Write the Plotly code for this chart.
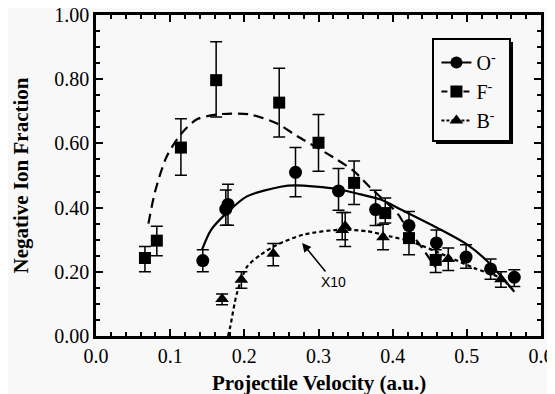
import plotly.graph_objects as go

# ---- data ----
o_x = [0.144, 0.175, 0.178, 0.269, 0.327, 0.377, 0.422, 0.459, 0.499, 0.532, 0.564]
o_y = [0.235, 0.395, 0.410, 0.510, 0.452, 0.394, 0.344, 0.290, 0.246, 0.209, 0.183]
o_ep = [0.034, 0.060, 0.063, 0.077, 0.070, 0.060, 0.044, 0.040, 0.038, 0.031, 0.023]
o_em = [0.035, 0.050, 0.065, 0.076, 0.060, 0.050, 0.040, 0.040, 0.035, 0.032, 0.029]

f_x = [0.066, 0.082, 0.1145, 0.162, 0.247, 0.300, 0.348, 0.390, 0.422, 0.458]
f_y = [0.243, 0.297, 0.587, 0.797, 0.727, 0.602, 0.477, 0.383, 0.305, 0.237]
f_ep = [0.036, 0.045, 0.090, 0.120, 0.107, 0.088, 0.068, 0.047, 0.040, 0.032]
f_em = [0.043, 0.047, 0.086, 0.115, 0.107, 0.089, 0.067, 0.031, 0.052, 0.039]

b_x = [0.170, 0.196, 0.239, 0.332, 0.336, 0.387, 0.475, 0.546]
b_y = [0.115, 0.175, 0.256, 0.330, 0.342, 0.308, 0.240, 0.177]
b_ep = [0.016, 0.025, 0.032, 0.055, 0.043, 0.040, 0.034, 0.023]
b_em = [0.018, 0.026, 0.037, 0.030, 0.063, 0.039, 0.036, 0.025]

# fitted curves
oc_x = [0.143, 0.155, 0.177, 0.2035, 0.249, 0.269, 0.325, 0.357, 0.384, 0.411, 0.465, 0.501, 0.528, 0.564]
oc_y = [0.269, 0.330, 0.385, 0.435, 0.465, 0.469, 0.458, 0.441, 0.425, 0.394, 0.331, 0.284, 0.232, 0.138]

fc_x = [0.0707, 0.0797, 0.0955, 0.116, 0.136, 0.163, 0.190, 0.208, 0.244, 0.271, 0.321, 0.348, 0.370, 0.406, 0.418, 0.440, 0.457]
fc_y = [0.350, 0.450, 0.560, 0.633, 0.675, 0.690, 0.693, 0.690, 0.662, 0.623, 0.555, 0.513, 0.462, 0.383, 0.341, 0.274, 0.215]

bc_x = [0.178, 0.181, 0.190, 0.2035, 0.222, 0.244, 0.280, 0.330, 0.366, 0.397, 0.424, 0.474, 0.510, 0.546, 0.562]
bc_y = [0.000, 0.029, 0.133, 0.215, 0.253, 0.284, 0.316, 0.331, 0.326, 0.310, 0.295, 0.248, 0.2115, 0.180, 0.144]

names = ["O<sup>-</sup>", "F<sup>-</sup>", "B<sup>-</sup>"]
x_ticks = [0.0, 0.1, 0.2, 0.3, 0.4, 0.5, 0.6]
y_ticks = [0.0, 0.2, 0.4, 0.6, 0.8, 1.0]

BG = "#f8f8f8"
FONT = "Liberation Serif"

fig = go.Figure()

curve_styles = [("solid", oc_x, oc_y), ("10px,6px", fc_x, fc_y), ("4px,3px", bc_x, bc_y)]
for dash, cx, cy in curve_styles:
    fig.add_trace(go.Scatter(x=cx, y=cy, mode="lines", line=dict(color="black", width=2.2, dash=dash, shape="spline", smoothing=0.8),
                             showlegend=False, hoverinfo="skip"))

sym = ["circle", "square", "triangle-up"]
sizes = [13, 12, 12]
data = [(o_x, o_y, o_ep, o_em), (f_x, f_y, f_ep, f_em), (b_x, b_y, b_ep, b_em)]
for i, (dx, dy, ep, em) in enumerate(data):
    fig.add_trace(go.Scatter(x=dx, y=dy, mode="markers",
                             marker=dict(symbol=sym[i], size=sizes[i], color="black"),
                             error_y=dict(type="data", array=ep, arrayminus=em, color="black", thickness=1.5, width=6),
                             showlegend=False))

dashes = ["solid", "6px,5px", "3px,2px"]
for i in range(3):
    fig.add_trace(go.Scatter(x=[None], y=[None], mode="lines+markers", name=names[i],
                             line=dict(color="black", width=2, dash=dashes[i]),
                             marker=dict(symbol=sym[i], size=12, color="black")))

fig.add_annotation(x=0.32, y=0.169, text="X10", showarrow=False,
                   font=dict(family="Liberation Sans", size=14, color="black"))
fig.add_annotation(x=0.278, y=0.29, ax=0.311, ay=0.196, axref="x", ayref="y", xref="x", yref="y",
                   text="", showarrow=True, arrowhead=2, arrowsize=1.2, arrowwidth=1.5, arrowcolor="black")

# legend frame with drop shadow (paper coords)
fig.add_shape(type="rect", xref="paper", yref="paper", x0=0.764, x1=0.9371, y0=0.5981, y1=0.9159,
              fillcolor="black", line=dict(width=0), layer="above")
fig.add_shape(type="rect", xref="paper", yref="paper", x0=0.7573, x1=0.9303, y0=0.6075, y1=0.9252,
              fillcolor=BG, line=dict(color="black", width=2), layer="above")

axis_common = dict(showline=True, linecolor="black", linewidth=2.5, mirror="allticks",
                   ticks="inside", ticklen=7, tickwidth=2, tickcolor="black",
                   showgrid=False, zeroline=False, automargin=False, ticklabeloverflow="allow",
                   tickfont=dict(family=FONT, size=20, color="black"))

fig.update_xaxes(range=[0, 0.6], tickvals=x_ticks, tickformat=".1f",
                 minor=dict(dtick=0.02, ticks="inside", ticklen=4, tickwidth=1.5, tickcolor="black"),
                 **axis_common)
fig.update_yaxes(range=[0, 1.0], tickvals=y_ticks, tickformat=".2f",
                 minor=dict(dtick=0.05, ticks="inside", ticklen=4, tickwidth=1.5, tickcolor="black"),
                 **axis_common)

fig.add_annotation(text="<b>Projectile Velocity (a.u.)</b>", xref="paper", yref="paper", x=0.5, y=0,
                   xanchor="center", yanchor="top", yshift=-33, showarrow=False,
                   font=dict(family=FONT, size=21, color="black"))
fig.add_annotation(text="<b>Negative Ion Fraction</b>", xref="paper", yref="paper", x=0, y=0.5,
                   xanchor="center", yanchor="middle", xshift=-76, textangle=-90, showarrow=False,
                   font=dict(family=FONT, size=21, color="black"))

fig.update_layout(
    width=547, height=386,
    margin=dict(l=88, r=14, t=7, b=58),
    paper_bgcolor=BG, plot_bgcolor=BG,
    legend=dict(x=0.765, y=0.7617, xanchor="left", yanchor="middle",
                bgcolor="rgba(0,0,0,0)", borderwidth=0,
                font=dict(family=FONT, size=20, color="black"),
                tracegroupgap=0, itemwidth=30),
)

fig.write_html("out.html")
